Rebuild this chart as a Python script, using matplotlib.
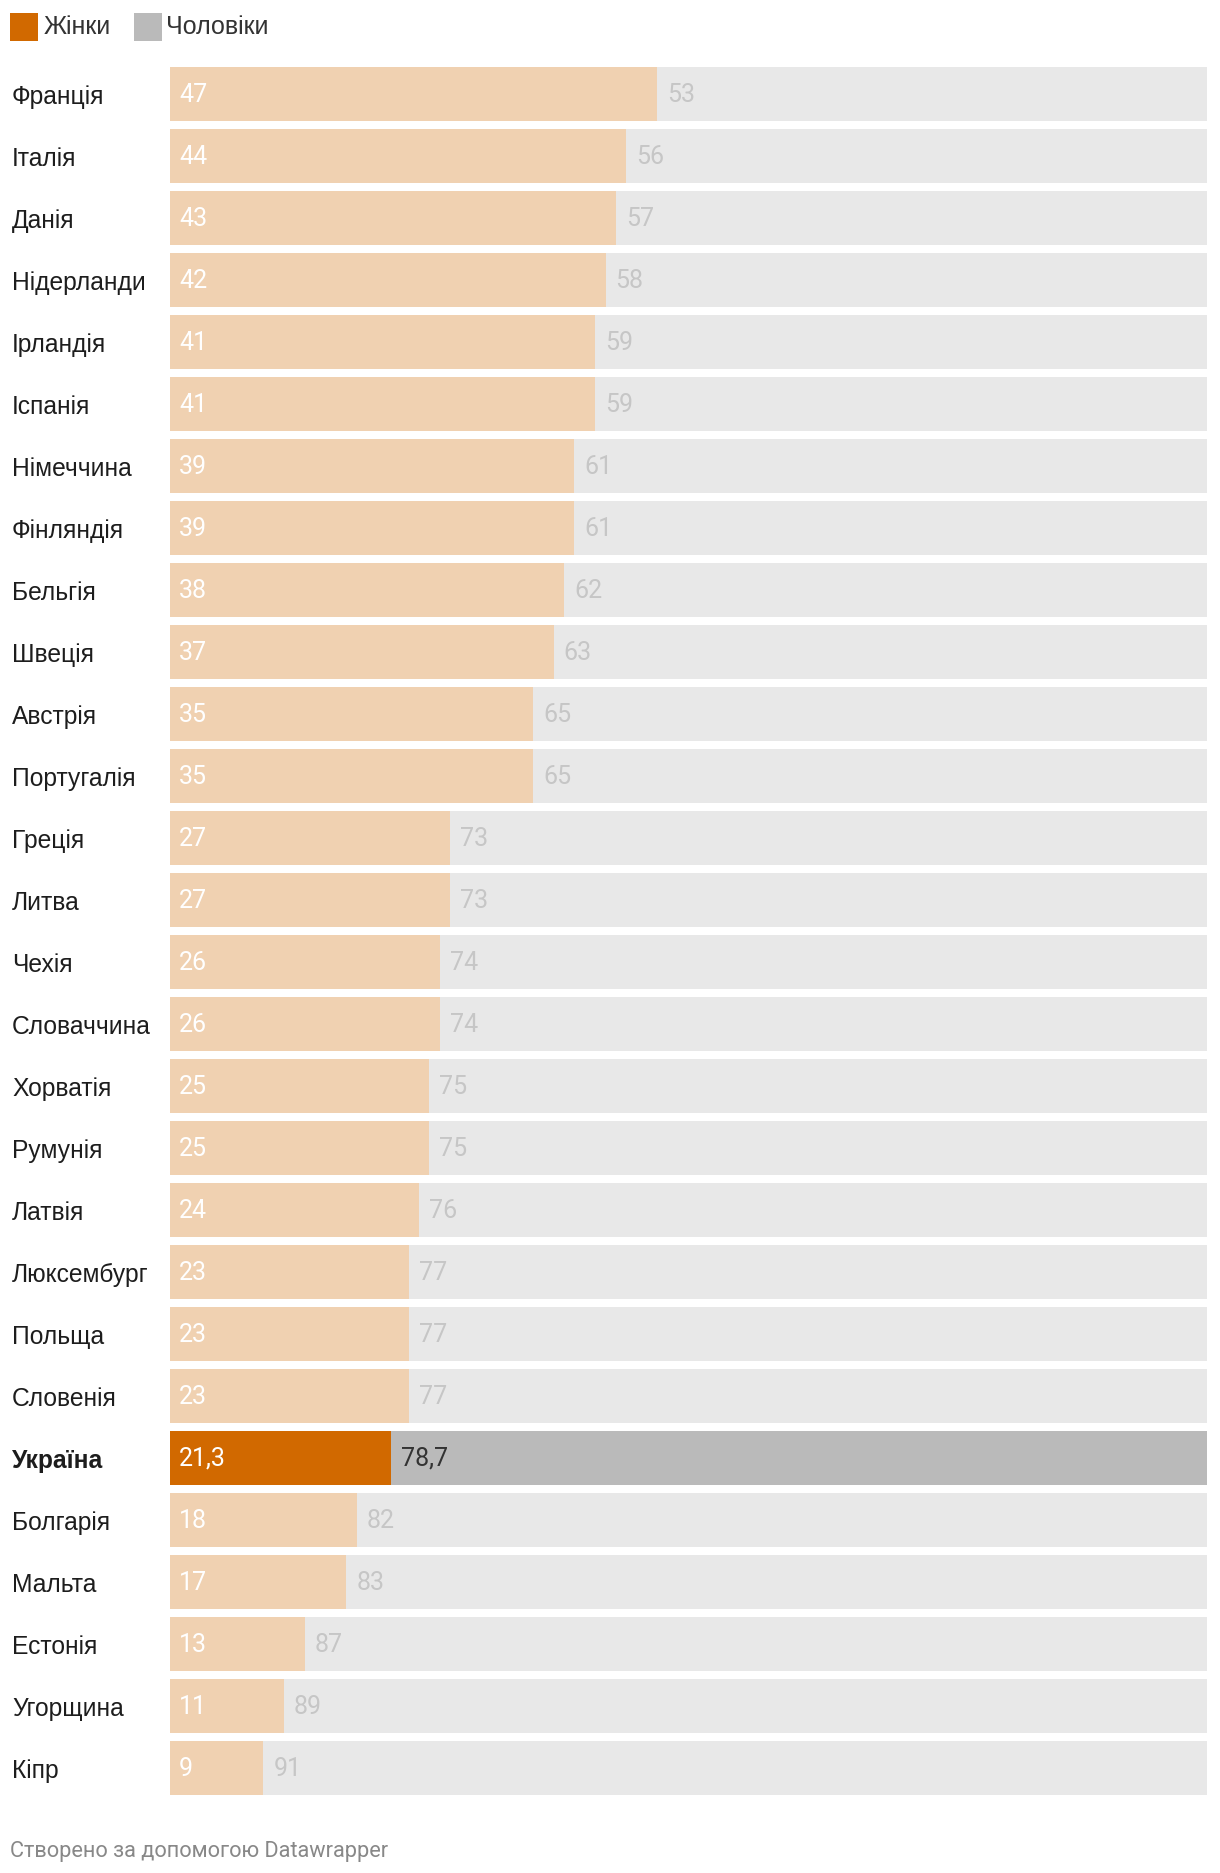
import matplotlib
matplotlib.use('Agg')
import matplotlib.pyplot as plt
import matplotlib.transforms as mtransforms
from matplotlib.patches import Rectangle

plt.rcParams['font.family'] = ['Roboto', 'DejaVu Sans']
label_font = ['Liberation Sans', 'DejaVu Sans']

countries = ['Франція', 'Італія', 'Данія', 'Нідерланди', 'Ірландія', 'Іспанія',
             'Німеччина', 'Фінляндія', 'Бельгія', 'Швеція', 'Австрія', 'Португалія',
             'Греція', 'Литва', 'Чехія', 'Словаччина', 'Хорватія', 'Румунія',
             'Латвія', 'Люксембург', 'Польща', 'Словенія', 'Україна', 'Болгарія',
             'Мальта', 'Естонія', 'Угорщина', 'Кіпр']
women = [47, 44, 43, 42, 41, 41, 39, 39, 38, 37, 35, 35, 27, 27, 26, 26, 25, 25,
         24, 23, 23, 23, 21.3, 18, 17, 13, 11, 9]
men = [53, 56, 57, 58, 59, 59, 61, 61, 62, 63, 65, 65, 73, 73, 74, 74, 75, 75,
       76, 77, 77, 77, 78.7, 82, 83, 87, 89, 91]
highlight = 'Україна'

W, H = 1220, 1874
fig = plt.figure(figsize=(W / 100, H / 100), dpi=100)

# bar area in pixels
left, right = 170, 1207
pitch = 62.0
top = 68 + 26.75 - pitch / 2
n = len(countries)
ax = fig.add_axes([left / W, 1 - (top + n * pitch) / H, (right - left) / W, n * pitch / H])
ax.set_xlim(0, 100)
ax.set_ylim(n - 0.5, -0.5)
ax.axis('off')

bar_h = 53.5 / pitch
fmt = lambda v: (f'{v:.1f}'.replace('.', ',') if v % 1 else f'{v:.0f}')

for i, (c, w, m) in enumerate(zip(countries, women, men)):
    hl = c == highlight
    ax.barh(i, w, height=bar_h, color='#d16900' if hl else '#f0d1b1', linewidth=0)
    ax.barh(i, m, left=w, height=bar_h, color='#bababa' if hl else '#e8e8e8', linewidth=0)
    ax.annotate(fmt(w), (0, i), xytext=(9, 2.5), textcoords='offset pixels',
                ha='left', va='center_baseline', fontsize=18, color='white')
    ax.annotate(fmt(m), (w, i), xytext=(10, 2.5), textcoords='offset pixels',
                ha='left', va='center_baseline', fontsize=18,
                color='#333333' if hl else '#c6c6c6')

trans = mtransforms.blended_transform_factory(fig.transFigure, ax.transData)
for i, c in enumerate(countries):
    ax.text(12 / W, i, c, transform=trans, ha='left', va='center_baseline', fontsize=17.7,
            color='#1d1d1d', family=label_font,
            fontweight='bold' if c == highlight else 'normal')

# legend
fig.add_artist(Rectangle((10 / W, 1 - 42 / H), 28 / W, 28 / H, transform=fig.transFigure,
                         color='#d16900', lw=0))
fig.text(44 / W, 1 - 25 / H, 'Жінки', ha='left', va='center_baseline', fontsize=18,
         color='#333333', family=label_font)
fig.add_artist(Rectangle((134 / W, 1 - 42 / H), 28 / W, 28 / H, transform=fig.transFigure,
                         color='#bababa', lw=0))
fig.text(166 / W, 1 - 25 / H, 'Чоловіки', ha='left', va='center_baseline', fontsize=18,
         color='#333333', family=label_font)

fig.text(10 / W, 1 - 1849 / H, 'Створено за допомогою Datawrapper', ha='left',
         va='center_baseline', fontsize=15.7, color='#888888')

fig.savefig('out.png', dpi=100)
